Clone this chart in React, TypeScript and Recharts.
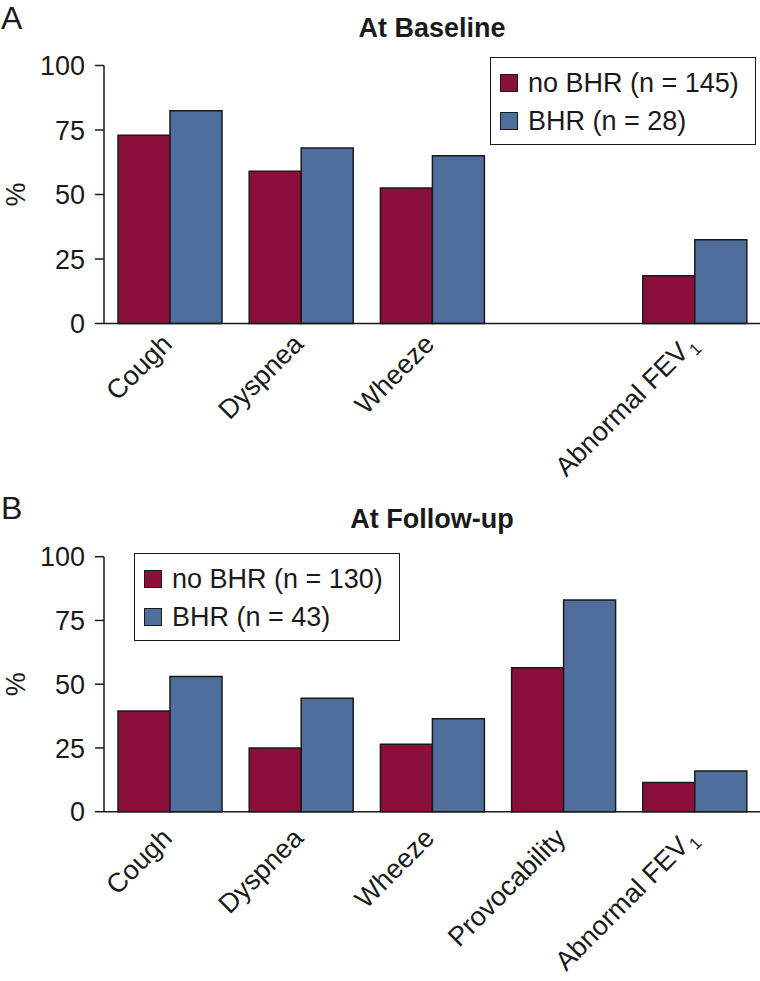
import React from 'react';
import { BarChart, Bar, XAxis, YAxis, Legend } from 'recharts';

const categories = ['Cough', 'Dyspnea', 'Wheeze', 'Provocability', 'Abnormal FEV1'];
const baselineTickLabels = ['Cough', 'Dyspnea', 'Wheeze', '', 'Abnormal FEV1'];
const followUpTickLabels = ['Cough', 'Dyspnea', 'Wheeze', 'Provocability', 'Abnormal FEV1'];

const noBhrBaseline = [73, 59, 52.5, null, 18.5];
const bhrBaseline = [82.5, 68, 65, null, 32.5];
const noBhrFollowUp = [39.5, 25, 26.5, 56.5, 11.5];
const bhrFollowUp = [53, 44.5, 36.5, 83, 16];

const yTicks = [0, 25, 50, 75, 100];

const baselineLegend = ['no BHR (n = 145)', 'BHR (n = 28)'];
const followUpLegend = ['no BHR (n = 130)', 'BHR (n = 43)'];

const RED = '#8A0F3A';
const BLUE = '#4F6E9C';
const INK = '#1a1a1a';
const FONT = '"Liberation Sans", Arial, Helvetica, sans-serif';
const FS = 27;

const buildRows = (a: (number | null)[], b: (number | null)[]) =>
  categories.map((c, i) => ({ category: c, noBhr: a[i], bhr: b[i] }));

const baselineData = buildRows(noBhrBaseline, bhrBaseline);
const followUpData = buildRows(noBhrFollowUp, bhrFollowUp);

const makeTick = (labels: string[], dx: number, dy: number) => (props: any) => {
  const { x, y, payload } = props;
  const label = labels[payload.index];
  if (!label) return <g />;
  const hasSub = label.endsWith('FEV1');
  return (
    <g transform={`translate(${x + dx},${y + dy})`}>
      <text transform="rotate(-45)" textAnchor="end" fontSize={FS} fill={INK} fontFamily={FONT}>
        {hasSub ? (
          <>
            {label.slice(0, -1)}
            <tspan fontSize={17} dy={6} dx={2}>1</tspan>
          </>
        ) : (
          label
        )}
      </text>
    </g>
  );
};

const makeLegend = (labels: string[]) => () => (
  <div
    style={{
      border: `1.5px solid ${INK}`,
      background: '#fff',
      width: 266,
      height: 88,
      boxSizing: 'border-box',
      paddingTop: 6,
      fontFamily: FONT,
    }}
  >
    {labels.map((l, i) => (
      <div key={l} style={{ display: 'flex', alignItems: 'center', height: 38, paddingLeft: 9 }}>
        <div
          style={{
            width: 18,
            height: 18,
            background: i === 0 ? RED : BLUE,
            border: `1.5px solid ${INK}`,
            boxSizing: 'border-box',
            marginRight: 10,
          }}
        />
        <span style={{ fontSize: FS, color: INK, lineHeight: '38px', whiteSpace: 'nowrap' }}>{l}</span>
      </div>
    ))}
  </div>
);

interface PanelProps {
  data: any[];
  tickLabels: string[];
  legendLabels: string[];
  legendPos: { left: number; top: number };
  height: number;
  marginTop: number;
  xAxisHeight: number;
  tickDy: number;
}

const Panel = ({ data, tickLabels, legendLabels, legendPos, height, marginTop, xAxisHeight, tickDy }: PanelProps) => (
  <BarChart
    width={760}
    height={height}
    data={data}
    margin={{ top: marginTop, right: 0, bottom: 0, left: 0 }}
    barGap={0}
    barSize={52}
  >
    <XAxis
      dataKey="category"
      interval={0}
      height={xAxisHeight}
      tickLine={false}
      tickSize={0}
      tickMargin={0}
      axisLine={{ stroke: INK, strokeWidth: 1.5 }}
      tick={makeTick(tickLabels, 4, tickDy)}
    />
    <YAxis
      width={104}
      domain={[0, 100]}
      ticks={yTicks}
      interval={0}
      tickSize={9}
      tickMargin={10}
      axisLine={{ stroke: INK, strokeWidth: 1.5 }}
      tickLine={{ stroke: INK, strokeWidth: 1.5 }}
      tick={{ fontSize: FS, fill: INK, fontFamily: FONT }}
      label={{ value: '%', angle: -90, position: 'insideLeft', offset: 15, style: { fontSize: 27, fill: INK, fontFamily: FONT, textAnchor: 'middle' } }}
    />
    <Legend
      layout="vertical"
      align="center"
      verticalAlign="middle"
      wrapperStyle={{ left: legendPos.left, top: legendPos.top, width: 266 }}
      content={makeLegend(legendLabels)}
    />
    <Bar dataKey="noBhr" fill={RED} stroke={INK} strokeWidth={1.5} isAnimationActive={false} />
    <Bar dataKey="bhr" fill={BLUE} stroke={INK} strokeWidth={1.5} isAnimationActive={false} />
  </BarChart>
);

const titleStyle: React.CSSProperties = {
  position: 'absolute',
  left: 104,
  width: 656,
  textAlign: 'center',
  fontFamily: FONT,
  fontWeight: 'bold',
  fontSize: 27,
  color: INK,
  lineHeight: '30px',
};

const letterStyle: React.CSSProperties = {
  position: 'absolute',
  left: 1,
  fontFamily: FONT,
  fontSize: 32,
  color: INK,
  lineHeight: '36px',
};

export default function App() {
  return (
    <div style={{ position: 'absolute', left: 0, top: 0, width: 760, height: 981, background: '#fff', overflow: 'hidden' }}>
      <div style={{ position: 'absolute', left: 0, top: 0 }}>
        <Panel
          data={baselineData}
          tickLabels={baselineTickLabels}
          legendLabels={baselineLegend}
          legendPos={{ left: 490, top: 57 }}
          height={490}
          marginTop={65.5}
          xAxisHeight={166.5}
          tickDy={22}
        />
      </div>
      <div style={{ position: 'absolute', left: 0, top: 490 }}>
        <Panel
          data={followUpData}
          tickLabels={followUpTickLabels}
          legendLabels={followUpLegend}
          legendPos={{ left: 134, top: 63 }}
          height={491}
          marginTop={66.7}
          xAxisHeight={169.3}
          tickDy={28}
        />
      </div>
      <div style={{ ...letterStyle, top: 0 }}>A</div>
      <div style={{ ...letterStyle, top: 490 }}>B</div>
      <div style={{ ...titleStyle, top: 13 }}>At Baseline</div>
      <div style={{ ...titleStyle, top: 504 }}>At Follow-up</div>
    </div>
  );
}
